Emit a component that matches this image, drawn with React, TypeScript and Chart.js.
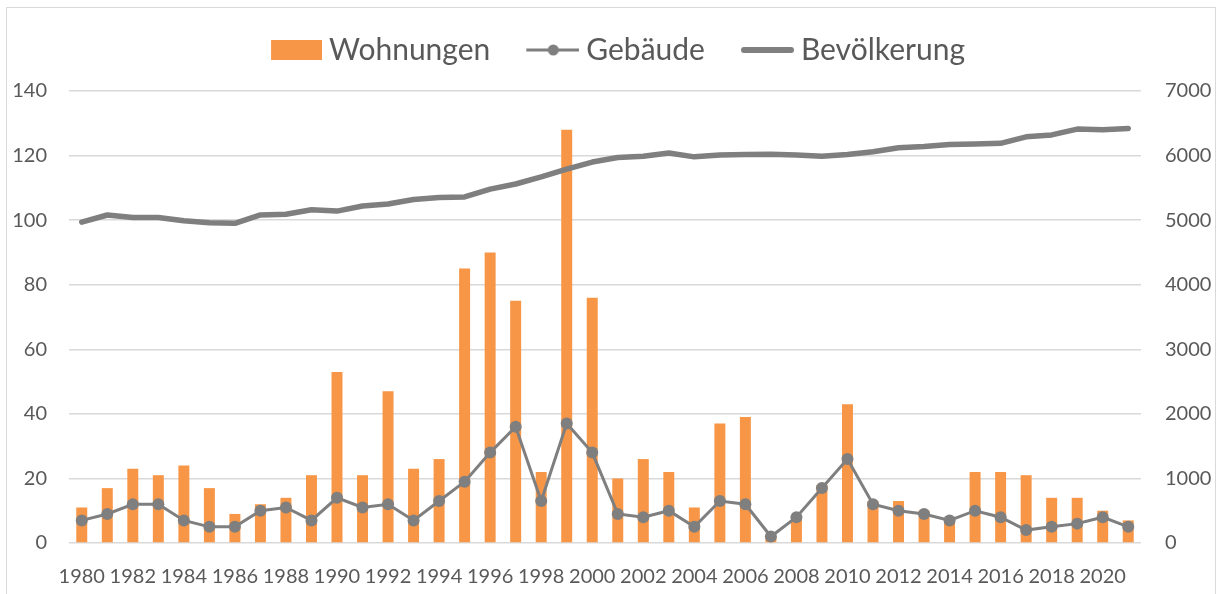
import React, { useEffect, useRef } from "react";
import { Chart, registerables } from "chart.js";

Chart.register(...registerables);

const years: string[] = [
  "1980","1981","1982","1983","1984","1985","1986","1987","1988","1989",
  "1990","1991","1992","1993","1994","1995","1996","1997","1998","1999",
  "2000","2001","2002","2003","2004","2005","2006","2007","2008","2009",
  "2010","2011","2012","2013","2014","2015","2016","2017","2018","2019",
  "2020","2021",
];

const wohnungen: number[] = [
  11, 17, 23, 21, 24, 17, 9, 12, 14, 21,
  53, 21, 47, 23, 26, 85, 90, 75, 22, 128,
  76, 20, 26, 22, 11, 37, 39, 2, 8, 18,
  43, 13, 13, 10, 7, 22, 22, 21, 14, 14,
  10, 7,
];

const gebaeude: number[] = [
  7, 9, 12, 12, 7, 5, 5, 10, 11, 7,
  14, 11, 12, 7, 13, 19, 28, 36, 13, 37,
  28, 9, 8, 10, 5, 13, 12, 2, 8, 17,
  26, 12, 10, 9, 7, 10, 8, 4, 5, 6,
  8, 5,
];

const bevoelkerung: number[] = [
  4970, 5080, 5040, 5040, 4990, 4960, 4950, 5080, 5090, 5160,
  5140, 5220, 5250, 5320, 5350, 5360, 5480, 5560, 5670, 5790,
  5900, 5970, 5990, 6040, 5980, 6010, 6015, 6020, 6010, 5990,
  6015, 6060, 6120, 6140, 6170, 6180, 6190, 6290, 6320, 6410,
  6400, 6420,
];

const seriesNames = ["Wohnungen", "Gebäude", "Bevölkerung"];
const leftTicks = { min: 0, max: 140, step: 20 };
const rightTicks = { min: 0, max: 7000, step: 1000 };

const ORANGE = "#F79646";
const GRAY = "#7F7F7F";
const TEXT = "#595959";
const GRID = "#D9D9D9";
const FONT = "Lato, 'Liberation Sans', sans-serif";

const W = 1217;
const H = 594;
const PAD_LEFT = 6;
const AREA_LEFT = 69;
const AREA_RIGHT = 1141;
const AREA_BOTTOM = 543;

function makeIcon(kind: string): HTMLCanvasElement {
  const c = document.createElement("canvas");
  const cw = 72;
  const ch = 22;
  c.width = cw;
  c.height = ch;
  const ctx = c.getContext("2d")!;
  const x0 = 21;
  const cy = ch / 2;
  if (kind === "bar") {
    ctx.fillStyle = ORANGE;
    ctx.fillRect(x0, cy - 10, 51, 20);
  } else if (kind === "dotline") {
    ctx.strokeStyle = GRAY;
    ctx.lineWidth = 3;
    ctx.beginPath();
    ctx.moveTo(x0 - 2, cy);
    ctx.lineTo(cw, cy);
    ctx.stroke();
    ctx.fillStyle = GRAY;
    ctx.beginPath();
    ctx.arc(x0 + 25, cy, 5.5, 0, Math.PI * 2);
    ctx.fill();
  } else {
    ctx.strokeStyle = GRAY;
    ctx.lineWidth = 6;
    ctx.lineCap = "round";
    ctx.beginPath();
    ctx.moveTo(x0 + 1, cy);
    ctx.lineTo(cw - 3, cy);
    ctx.stroke();
  }
  return c;
}

export default function App() {
  const ref = useRef<HTMLCanvasElement | null>(null);

  useEffect(() => {
    if (!ref.current) return;
    const icons = [makeIcon("bar"), makeIcon("dotline"), makeIcon("line")];
    const chart = new Chart(ref.current, {
      type: "bar",
      data: {
        labels: years,
        datasets: [
          {
            type: "bar",
            label: seriesNames[0],
            data: wohnungen,
            backgroundColor: ORANGE,
            borderWidth: 0,
            categoryPercentage: 1,
            barPercentage: 0.43,
            yAxisID: "y",
            order: 3,
          },
          {
            type: "line",
            label: seriesNames[1],
            data: gebaeude,
            borderColor: GRAY,
            backgroundColor: GRAY,
            borderWidth: 3,
            pointRadius: 6,
            pointBackgroundColor: GRAY,
            pointBorderWidth: 0,
            tension: 0,
            yAxisID: "y",
            order: 1,
          },
          {
            type: "line",
            label: seriesNames[2],
            data: bevoelkerung,
            borderColor: GRAY,
            backgroundColor: GRAY,
            borderWidth: 5.5,
            pointRadius: 0,
            borderCapStyle: "round",
            borderJoinStyle: "round",
            tension: 0,
            yAxisID: "y1",
            order: 2,
          },
        ],
      },
      options: {
        responsive: false,
        animation: false,
        layout: { padding: { left: PAD_LEFT, right: 0, top: 10, bottom: 0 } },
        plugins: {
          tooltip: { enabled: false },
          legend: {
            display: true,
            position: "top",
            labels: {
              usePointStyle: true,
              pointStyleWidth: 56,
              boxHeight: 20,
              padding: 25,
              color: TEXT,
              font: { family: FONT, size: 30 },
              generateLabels: () =>
                seriesNames.map((name, i) => ({
                  text: name,
                  fillStyle: i === 0 ? ORANGE : GRAY,
                  strokeStyle: i === 0 ? ORANGE : GRAY,
                  lineWidth: 0,
                  pointStyle: icons[i],
                  hidden: false,
                  datasetIndex: i,
                  fontColor: TEXT,
                })),
            },
          },
          subtitle: {
            display: true,
            text: "",
            position: "top",
            weight: 500,
            padding: 0,
            font: { family: FONT, size: 10, lineHeight: 1.6 },
          },
        },
        scales: {
          x: {
            type: "category",
            offset: true,
            grid: { display: false },
            border: { display: false },
            ticks: {
              autoSkip: false,
              maxRotation: 0,
              minRotation: 0,
              padding: 14,
              color: TEXT,
              font: { family: FONT, size: 20 },
              callback: (_v: any, i: number) => (i % 2 === 0 ? years[i] : ""),
            },
            afterFit: (s: any) => {
              s.height = H - AREA_BOTTOM;
            },
          },
          y: {
            position: "left",
            min: leftTicks.min,
            max: leftTicks.max,
            grid: { color: GRID, lineWidth: 1.5, drawTicks: false },
            border: { display: false },
            ticks: {
              stepSize: leftTicks.step,
              padding: 22,
              color: TEXT,
              font: { family: FONT, size: 20 },
              callback: (v: any) => String(v),
            },
            afterFit: (s: any) => {
              s.width = AREA_LEFT - PAD_LEFT;
            },
          },
          y1: {
            position: "right",
            min: rightTicks.min,
            max: rightTicks.max,
            grid: { drawOnChartArea: false, drawTicks: false },
            border: { display: false },
            ticks: {
              stepSize: rightTicks.step,
              padding: 24,
              color: TEXT,
              font: { family: FONT, size: 20 },
              callback: (v: any) => String(v),
            },
            afterFit: (s: any) => {
              s.width = W - AREA_RIGHT;
            },
          },
        },
      },
    } as any);
    return () => chart.destroy();
  }, []);

  return (
    <div>
      <div
        style={{
          position: "absolute",
          left: 6,
          top: 7,
          width: 1208,
          height: 586,
          borderTop: "1px solid #D9D9D9",
          borderLeft: "1px solid #D9D9D9",
          borderRight: "1px solid #D9D9D9",
          background: "#fff",
        }}
      />
      <canvas
        ref={ref}
        width={W}
        height={H}
        style={{ position: "absolute", left: 0, top: 0, width: W, height: H }}
      />
    </div>
  );
}
